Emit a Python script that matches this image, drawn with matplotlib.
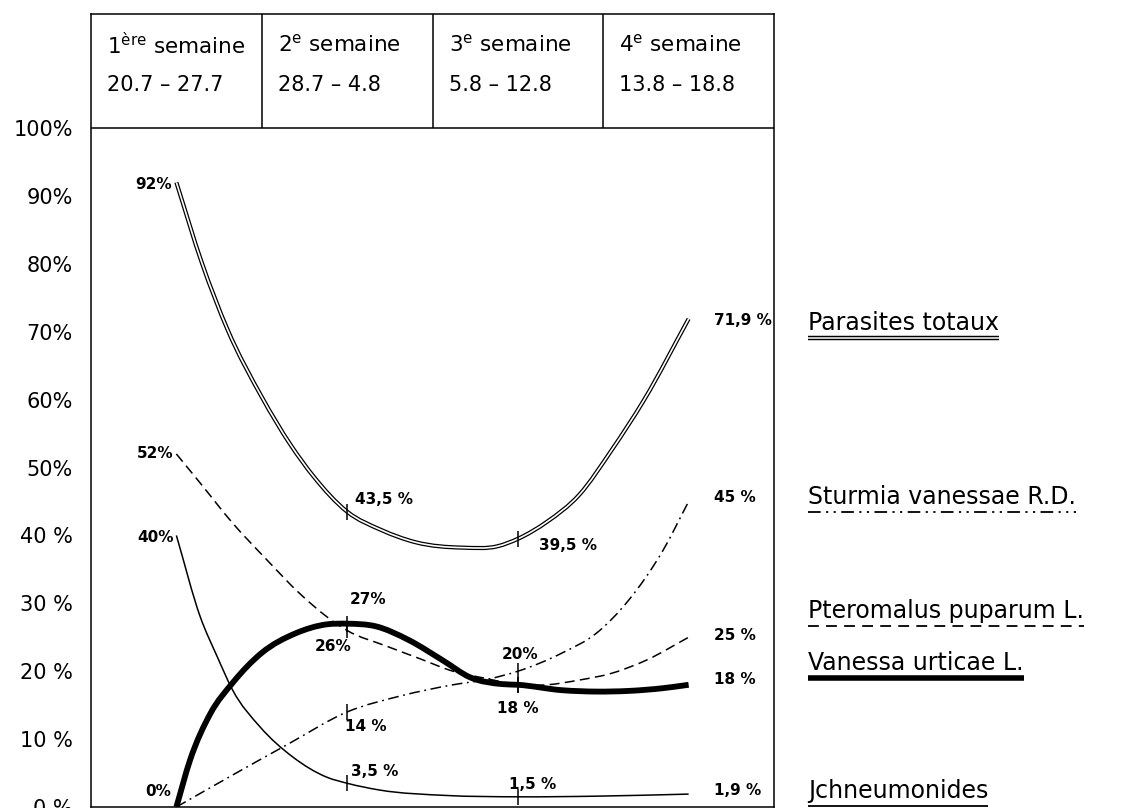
import numpy as np
import matplotlib.pyplot as plt
from matplotlib.path import Path
from matplotlib.patches import PathPatch
from matplotlib.lines import Line2D
from matplotlib.transforms import blended_transform_factory

plt.rcParams['font.family'] = ['DejaVu Sans']

# --- data -------------------------------------------------------------
weeks = [0.5, 1.5, 2.5, 3.5]
week_titles = [r"1$^{\mathrm{ère}}$ semaine", r"2$^{\mathrm{e}}$ semaine",
               r"3$^{\mathrm{e}}$ semaine", r"4$^{\mathrm{e}}$ semaine"]
week_dates = ["20.7 – 27.7", "28.7 – 4.8", "5.8 – 12.8", "13.8 – 18.8"]

y_ticks = [0, 10, 20, 30, 40, 50, 60, 70, 80, 90, 100]
y_ticklabels = ["0 %", "10 %", "20 %", "30 %", "40 %", "50%",
                "60%", "70%", "80%", "90%", "100%"]

names = ["Parasites totaux", "Sturmia vanessae R.D.", "Pteromalus puparum L.",
         "Vanessa urticae L.", "Jchneumonides"]

parasites = [92, 43.5, 39.5, 71.9]
sturmia = [0, 14, 20, 45]
pteromalus = [52, 26, 18, 25]
vanessa = [0, 27, 18, 18]
ichneumon = [40, 3.5, 1.5, 1.9]

# hand-drawn curves
parasites_x = [0.5, 0.65, 0.8, 1.0, 1.17, 1.3, 1.5, 1.7, 1.9, 2.18, 2.38, 2.5,
               2.67, 2.86, 3.05, 3.24, 3.5]
parasites_y = [92, 80.1, 70.3, 60.4, 53.3, 48.8, 43.5, 40.8, 39.0, 38.2, 38.4, 39.5,
               42.0, 46.0, 52.6, 60.0, 71.9]

sturmia_x = [0.5, 0.85, 1.15, 1.5, 1.82, 2.12, 2.32, 2.5, 2.76, 2.96, 3.15, 3.35, 3.5]
sturmia_y = [0, 5.0, 9.2, 14, 16.4, 18.0, 18.8, 20, 22.7, 25.6, 30.5, 37.8, 45]

pteromalus_x = [0.5, 0.64, 0.83, 1.03, 1.22, 1.42, 1.5, 1.73, 1.92, 2.12, 2.32, 2.5,
                2.67, 2.86, 3.05, 3.25, 3.5]
pteromalus_y = [52, 47.7, 41.8, 36.4, 31.5, 27.3, 26, 23.7, 21.9, 20.0, 18.9, 18,
                18.0, 18.7, 19.7, 21.6, 25]

vanessa_x = [0.5, 0.58, 0.7, 0.83, 1.0, 1.2, 1.38, 1.5, 1.67, 1.86, 2.06, 2.22, 2.41,
             2.5, 2.76, 2.96, 3.15, 3.35, 3.5]
vanessa_y = [0, 6.9, 13.8, 18.3, 22.7, 25.6, 26.9, 27, 26.6, 24.6, 21.6, 19.1, 18.1,
             18, 17.2, 17.0, 17.1, 17.5, 18]

ichneumon_x = [0.5, 0.64, 0.74, 0.83, 0.99, 1.18, 1.38, 1.5, 1.69, 2.08, 2.5,
               2.97, 3.5]
ichneumon_y = [40, 28.0, 22.1, 17.2, 11.8, 7.4, 4.4, 3.5, 2.5, 1.7, 1.5,
               1.6, 1.9]

values = [parasites, sturmia, pteromalus, vanessa, ichneumon]
traces = [(parasites_x, parasites_y), (sturmia_x, sturmia_y),
          (pteromalus_x, pteromalus_y), (vanessa_x, vanessa_y),
          (ichneumon_x, ichneumon_y)]


def smooth_path(xs, ys):
    # smooth cubic (hermite) through the traced points, as bezier segments
    x = np.asarray(xs, float)
    y = np.asarray(ys, float)
    h = np.diff(x)
    d = np.diff(y) / h
    m = np.empty_like(x)
    m[0], m[-1] = d[0], d[-1]
    m[1:-1] = (d[:-1] * h[1:] + d[1:] * h[:-1]) / (h[:-1] + h[1:])
    verts = [(x[0], y[0])]
    codes = [Path.MOVETO]
    for i in range(len(h)):
        verts += [(x[i] + h[i] / 3, y[i] + m[i] * h[i] / 3),
                  (x[i + 1] - h[i] / 3, y[i + 1] - m[i + 1] * h[i] / 3),
                  (x[i + 1], y[i + 1])]
        codes += [Path.CURVE4] * 3
    return Path(verts, codes)


# styles per series: list of (linewidth, color, linestyle) layers
styles = [
    [(3.0, 'black', '-'), (1.2, 'white', '-')],
    [(1.1, 'black', (0, (7, 3, 1.2, 3)))],
    [(1.1, 'black', (0, (6.5, 3.5)))],
    [(4.2, 'black', '-')],
    [(1.1, 'black', '-')],
]
legend_styles = [
    [(3.2, 'black', '-'), (1.1, 'white', '-')],
    [(1.3, 'black', (0, (7, 3, 1.2, 3, 1.2, 3)))],
    [(1.3, 'black', (0, (6, 4)))],
    [(4.0, 'black', '-')],
    [(1.3, 'black', '-')],
]

fig = plt.figure(figsize=(11.28, 8.08), dpi=100)
ax = fig.add_axes([91 / 1128, 1 / 808, 683 / 1128, 793 / 808])
ax.set_xlim(0, 4)
ax.set_ylim(0, 116.8)

for sp in ['left', 'right', 'top', 'bottom']:
    ax.spines[sp].set_linewidth(1.1)
ax.set_xticks([])
ax.set_yticks(y_ticks)
ax.set_yticklabels(y_ticklabels, fontsize=15)
ax.tick_params(axis='y', length=0, pad=13)

# header table
ax.axhline(100, color='black', lw=1.1)
ax.vlines([1, 2, 3], 100, 116.8, color='black', lw=1.1)
for i, (t, d) in enumerate(zip(week_titles, week_dates)):
    ax.text(i + 0.095, 112.3, t, fontsize=15.5, ha='left', va='center')
    ax.text(i + 0.095, 106.4, d, fontsize=15, ha='left', va='center')

# curves
for (xs, ys), layers in zip(traces, styles):
    for lw, col, ls in layers:
        ax.add_patch(PathPatch(smooth_path(xs, ys), fill=False, lw=lw,
                               edgecolor=col, linestyle=ls, capstyle='butt'))

# small cross marks at weeks 2 and 3
for vals in values:
    ax.plot(weeks[1:3], vals[1:3], linestyle='none', marker='|',
            markersize=12, markeredgewidth=1.1, color='black', zorder=4)

# value labels: (series, week, dx px, dy px, ha, separator)
labels = [
    (0, 0, -4, -2, 'right', ''), (0, 1, 8, 12, 'left', ' '),
    (0, 2, 21, -7, 'left', ' '), (0, 3, 25, -2, 'left', ' '),
    (1, 1, -2, -15, 'left', ' '), (1, 2, 2, 17, 'center', ''),
    (1, 3, 25, 4, 'left', ' '),
    (2, 0, -3, 0, 'right', ''), (2, 1, 4, -16, 'right', ''),
    (2, 3, 25, 2, 'left', ' '),
    (3, 0, -5, 16, 'right', ''), (3, 1, 21, 24, 'center', ''),
    (3, 2, 0, -24, 'center', ' '), (3, 3, 25, 5, 'left', ' '),
    (4, 0, -3, -2, 'right', ''), (4, 1, 4, 12, 'left', ' '),
    (4, 2, -9, 12, 'left', ' '), (4, 3, 25, 4, 'left', ' '),
]
for s, w, dx, dy, ha, sep in labels:
    v = values[s][w]
    txt = f"{v:g}".replace('.', ',') + sep + "%"
    ax.annotate(txt, (weeks[w], v), xytext=(dx, dy), textcoords='offset pixels',
                ha=ha, va='center', fontsize=11, fontweight='bold')

# legend at the right
leg_tr = blended_transform_factory(fig.transFigure, ax.transData)
legend_x = 808 / 1128
legend_y = [71.3, 45.7, 28.8, 21.2, 2.4]
texts = []
for name, y in zip(names, legend_y):
    texts.append(ax.text(legend_x, y, name, transform=leg_tr, fontsize=17,
                         ha='left', va='center', clip_on=False))

fig.canvas.draw()
renderer = fig.canvas.get_renderer()
fig_w = fig.bbox.width
for t, y, layers in zip(texts, legend_y, legend_styles):
    bb = t.get_window_extent(renderer)
    x0, x1 = bb.x0 / fig_w, bb.x1 / fig_w
    for lw, col, ls in layers:
        ax.add_line(Line2D([x0, x1], [y - 2.2, y - 2.2], transform=leg_tr,
                           lw=lw, color=col, linestyle=ls, clip_on=False,
                           solid_capstyle='butt'))

fig.savefig('out.png', dpi=100)
